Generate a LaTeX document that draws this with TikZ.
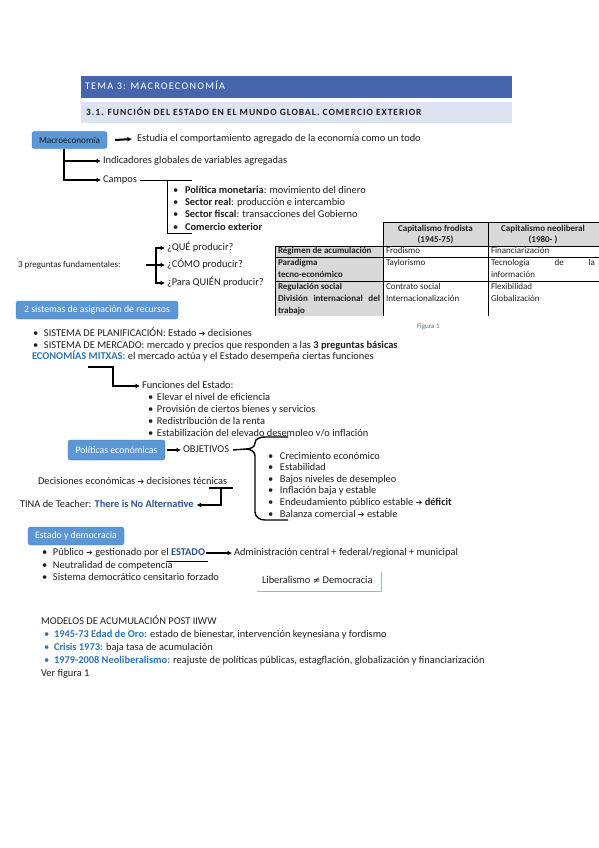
\documentclass[tikz,border=0pt]{standalone}
\usepackage{fontspec}
\setmainfont{Carlito}
\newfontfamily\symfont{DejaVu Sans}
\usetikzlibrary{arrows.meta}
\definecolor{hdrblue}{RGB}{70,101,172}
\definecolor{hdrlight}{RGB}{221,227,240}
\definecolor{boxblue}{RGB}{91,150,213}
\definecolor{boxedge}{RGB}{70,125,190}
\definecolor{accblue}{RGB}{46,116,181}
\definecolor{darkblue}{RGB}{47,85,151}
\definecolor{tblgray}{RGB}{217,217,217}
\definecolor{capcol}{RGB}{84,104,140}
\definecolor{txtcol}{RGB}{30,30,30}
\definecolor{libedge}{RGB}{160,180,214}
\newcommand\rarr{{\symfont\fontsize{8}{8}\selectfont\symbol{"2794}}}
\newcommand\neqsym{{\symfont\fontsize{9}{9}\selectfont\symbol{"2260}}}
\newcommand\bul[1]{\makebox[#1][l]{\textbullet}}
\begin{document}
\begin{tikzpicture}[x=1pt,y=-1pt,
  t/.style={anchor=west,inner sep=0pt,outer sep=0pt,text height=7pt,text depth=2pt,text=txtcol,font=\fontsize{10.4}{12}\selectfont},
  ts/.style={t,font=\fontsize{9}{10}\selectfont},
  tb/.style={t,font=\fontsize{9}{10}\selectfont\bfseries},
  sbox/.style={draw=boxedge,fill=boxblue,rounded corners=2.5pt,text=white,inner sep=0pt,font=\fontsize{9.8}{11}\selectfont},
  blk/.style={line width=2pt},
  mid/.style={line width=1.4pt},
  arr/.style={-{Latex[length=4.5pt,width=5pt]}},
  tline/.style={line width=0.9pt,black},
]
\useasboundingbox (0,0) rectangle (599,848);
\fill[white] (0,0) rectangle (599,848);

% headers
\fill[hdrblue] (81,76) rectangle (512,98);
\node[t,text=white,font=\fontsize{10.2}{12}\selectfont\addfontfeature{LetterSpace=12}] (tema) at (85,87) {TEMA 3: MACROECONOMÍA};
\fill[hdrlight] (81,102) rectangle (512,123);
\node[t,font=\fontsize{9.5}{11}\selectfont\bfseries\addfontfeature{LetterSpace=10}] (sec) at (86,113) {3.1. FUNCIÓN DEL ESTADO EN EL MUNDO GLOBAL. COMERCIO EXTERIOR};

% Macroeconomia
\node[sbox,text=txtcol,minimum width=75pt,minimum height=17pt,font=\fontsize{9.2}{11}\selectfont] (macro) at (69.5,140) {Macroeconomía};
\node[t] (est) at (137,139) {Estudia el comportamiento agregado de la economía como un todo};
\draw[blk,arr] ([xshift=8pt]macro.east) -- ([xshift=-5pt]est.west);
\node[t] (ind) at (103,161) {Indicadores globales de variables agregadas};
\node[t] (cam) at (103,180) {Campos};
\path (macro.south) ++(-5.5,0) coordinate (trunk);
\draw[blk,arr] (trunk) |- ([xshift=-2pt]ind.west);
\draw[blk,arr] (trunk) |- ([xshift=-2pt]cam.west);
\coordinate (cbt) at (192,180);
\coordinate (cbb) at (192,233);
\draw[line width=1pt] ([xshift=3pt]cam.east) -- (cbt);
\draw[line width=1pt] (167,180) -- (167,233) -- (cbb);
\node[t] (pm) at (173,191) {\bul{12pt}\textbf{Política monetaria}: movimiento del dinero};
\node[t] (sr) at (173,203) {\bul{12pt}\textbf{Sector real}: producción e intercambio};
\node[t] (sf) at (173,215) {\bul{12pt}\textbf{Sector fiscal}: transacciones del Gobierno};
\node[t] (ce) at (173,228) {\bul{12pt}\textbf{Comercio exterior}};

% table
\fill[tblgray] (383,222) rectangle (600,246);
\fill[tblgray] (275,246) rectangle (383,316);
\draw[tline] (383,222) -- (600,222);
\draw[tline] (275,246) -- (600,246);
\draw[tline] (275,257) -- (600,257);
\draw[tline] (275,281) -- (600,281);
\draw[tline] (275,246) -- (275,316);
\draw[tline] (383,222) -- (383,316);
\draw[tline] (488,222) -- (488,316);
\node[tb,anchor=center] (h1a) at (435.5,229) {Capitalismo frodista};
\node[tb,anchor=center] (h1b) at (435.5,240) {(1945-75)};
\node[tb,anchor=center] (h2a) at (543,229) {Capitalismo neoliberal};
\node[tb,anchor=center] (h2b) at (543,240) {(1980- )};
\node[tb] (r1) at (278,251) {Régimen de acumulación};
\node[ts] (r1a) at (386,251) {Frodismo};
\node[ts] (r1b) at (491,251) {Financiarización};
\node[tb] (r2) at (278,263) {Paradigma};
\node[tb] (r2x) at (278,275) {tecno-económico};
\node[ts] (r2a) at (386,263) {Taylorismo};
\node[ts] (r2b) at (491,263) {\makebox[104pt][s]{Tecnología de la}};
\node[ts] (r2c) at (491,275) {información};
\node[tb] (r3) at (278,287) {Regulación social};
\node[tb] (r3x) at (278,299) {\makebox[102pt][s]{División internacional del}};
\node[tb] (r3y) at (278,311) {trabajo};
\node[ts] (r3a) at (386,287) {Contrato social};
\node[ts] (r3b) at (386,299) {Internacionalización};
\node[ts] (r3c) at (491,287) {Flexibilidad};
\node[ts] (r3d) at (491,299) {Globalización};
\node[t,font=\fontsize{7}{8}\selectfont,text=capcol] (fig) at (417,326) {Figura 1};

% 3 preguntas
\node[t,font=\fontsize{9}{11}\selectfont] (tres) at (18,265) {3 preguntas fundamentales:};
\node[t] (q1) at (167,248) {¿QUÉ producir?};
\node[t] (q2) at (167,265) {¿CÓMO producir?};
\node[t] (q3) at (167,283) {¿Para QUIÉN producir?};
\coordinate (qs) at (146,265);
\coordinate (qj) at (156,265);
\draw[blk] (qs) -- (qj);
\draw[mid,arr] (qj) |- ([xshift=-2pt]q1.west);
\draw[mid,arr] (qj) -- ([xshift=-2pt]q2.west);
\draw[mid,arr] (qj) |- ([xshift=-2pt]q3.west);

% 2 sistemas
\node[sbox,minimum width=162pt,minimum height=18pt] (sis) at (97,310) {2 sistemas de asignación de recursos};
\node[t] (s1) at (33,334) {\bul{11pt}SISTEMA DE PLANIFICACIÓN: Estado \rarr{} decisiones};
\node[t] (s2) at (33,346) {\bul{11pt}SISTEMA DE MERCADO: mercado y precios que responden a las \textbf{3 preguntas básicas}};
\node[t] (mix) at (32,357) {\textcolor{accblue}{\textbf{ECONOMÍAS MITXAS:}} el mercado actúa y el Estado desempeña ciertas funciones};
\coordinate (m0) at (88,367);
\node[t] (fun) at (142,386) {Funciones del Estado:};
\draw[mid,arr] (m0) -- (113,367) |- ([xshift=-2pt]fun.west);
\node[t] (f1) at (148,398) {\bul{9pt}Elevar el nivel de eficiencia};
\node[t] (f2) at (148,410) {\bul{9pt}Provisión de ciertos bienes y servicios};
\node[t] (f3) at (148,422) {\bul{9pt}Redistribución de la renta};
\node[t] (f4) at (148,434) {\bul{9pt}Estabilización del elevado desempleo y/o inflación};
\fill[white] (150,436.2) rectangle (345,440);

% Politicas economicas
\node[sbox,minimum width=97pt,minimum height=20pt] (pol) at (116.5,450) {Políticas económicas};
\node[t] (obj) at (183,450) {OBJETIVOS};
\draw[blk,arr] ([xshift=2pt]pol.east) -- ([xshift=-2pt]obj.west);
\draw[mid] ([xshift=4pt]obj.east) -- (246,449) to[out=0,in=-90] (255,443) to[out=90,in=180] (265,437) -- (288,437);
\draw[mid] (246,449) to[out=0,in=90] (255,456) -- (255,512) to[out=-90,in=180] (265,520) -- (288,520);
\node[t] (o1) at (268,457) {\bul{12pt}Crecimiento económico};
\node[t] (o2) at (268,468) {\bul{12pt}Estabilidad};
\node[t] (o3) at (268,480) {\bul{12pt}Bajos niveles de desempleo};
\node[t] (o4) at (268,491) {\bul{12pt}Inflación baja y estable};
\node[t] (o5) at (268,503) {\bul{12pt}Endeudamiento público estable \rarr{} \textbf{déficit}};
\node[t] (o6) at (268,515) {\bul{12pt}Balanza comercial \rarr{} estable};

\node[t] (dec) at (38,482) {Decisiones económicas \rarr{} decisiones técnicas};
\node[t] (tina) at (20,505) {TINA de Teacher: \textcolor{darkblue}{\textbf{There is No Alternative}}};
\coordinate (d1) at (209,488);
\coordinate (d2) at (233,488);
\coordinate (d3) at (221,488);
\draw[line width=1.2pt] (d1) -- (d2);
\draw[mid,arr] (d3) |- ([xshift=3pt]tina.east);

% Estado y democracia
\node[sbox,minimum width=96pt,minimum height=18pt] (edem) at (76,536) {Estado y democracia};
\node[t] (pub) at (42,553) {\bul{11pt}Público \rarr{} gestionado por el \textcolor{darkblue}{\textbf{ESTADO}}};
\node[t] (adm) at (234,553) {Administración central + federal/regional + municipal};
\draw[line width=1.2pt,arr] ([xshift=1pt]pub.east) -- ([xshift=-2pt]adm.west);
\coordinate (u1) at (167,561);
\coordinate (u2) at (208,561);
\draw[line width=0.8pt] (u1) -- (u2);
\node[t] (neu) at (42,566) {\bul{11pt}Neutralidad de competencia};
\node[t] (cen) at (42,578) {\bul{11pt}Sistema democrático censitario forzado};
\node[t] (lib) at (262,581) {Liberalismo \neqsym{} Democracia};
\draw[libedge,line width=1pt] (257,591) -- (381,591) -- (381,572);

% Modelos
\node[t] (mod) at (41,622) {MODELOS DE ACUMULACIÓN POST IIWW};
\node[t] (ml1) at (44,635) {\textcolor{accblue}{\bul{10pt}\textbf{1945-73 Edad de Oro:}} estado de bienestar, intervención keynesiana y fordismo};
\node[t] (ml2) at (44,648) {\textcolor{accblue}{\bul{10pt}\textbf{Crisis 1973:}} baja tasa de acumulación};
\node[t] (ml3) at (44,661) {\textcolor{accblue}{\bul{10pt}\textbf{1979-2008 Neoliberalismo:}} reajuste de políticas públicas, estagflación, globalización y financiarización};
\node[t] (ver) at (41,674) {Ver figura 1};
\end{tikzpicture}
\end{document}
